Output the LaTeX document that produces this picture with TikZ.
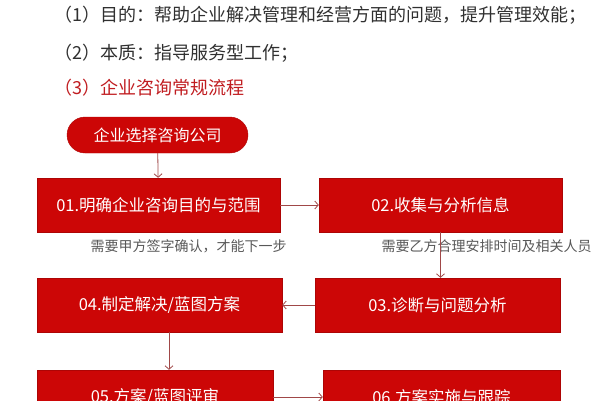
\documentclass[tikz,border=0pt]{standalone}
\usepackage{fontspec}
\usepackage{tikz}
\usetikzlibrary{positioning,arrows.meta}
\newfontfamily\cjk{Noto Sans CJK SC}
\definecolor{boxred}{RGB}{204,6,6}
\definecolor{linered}{RGB}{160,72,72}
\definecolor{titlered}{RGB}{192,28,32}
\definecolor{darktext}{RGB}{48,48,48}
\definecolor{graytext}{RGB}{88,88,88}

\begin{document}
\begin{tikzpicture}[x=1pt,y=-1pt,
		every node/.style={font=\cjk},
		stepbox/.style={draw=boxred!85!black, fill=boxred, text=white, minimum height=54pt, inner sep=0pt, font=\cjk\fontsize{16.5}{18}\selectfont},
		startbox/.style={stepbox, rounded corners=18pt, minimum height=36pt, minimum width=181pt, font=\cjk\fontsize{16}{18}\selectfont},
		note/.style={text=graytext, inner sep=0pt, font=\cjk\fontsize{14}{16}\selectfont},
		heading/.style={anchor=west, inner sep=0pt, text=darktext, font=\cjk\fontsize{18}{20}\selectfont},
		line/.style={draw=linered, line width=0.8pt, ->, >={Straight Barb[length=3.5pt,width=8pt]}}]
			\useasboundingbox (0,0) rectangle (600,400);

			\node[heading] (goal) at (54,15) {（1）目的：帮助企业解决管理和经营方面的问题，提升管理效能；};
			\node[heading] (nature) at (54,53) {（2）本质：指导服务型工作；};
			\node[heading, text=titlered] (flow) at (54,88) {（3）企业咨询常规流程};

			\node[startbox] (start) at (157.5,135) {企业选择咨询公司};
			\node[stepbox, minimum width=243pt] (s1) at (158.5,205) {01.明确企业咨询目的与范围};
			\node[stepbox, minimum width=243pt] (s2) at (440.5,205) {02.收集与分析信息};
			\node[stepbox, minimum width=245pt] (s3) at (437.5,305) {03.诊断与问题分析};
			\node[stepbox, minimum width=245pt] (s4) at (159.5,305) {04.制定解决/蓝图方案};
			\node[stepbox, minimum width=236pt] (s5) at (155,397) {05.方案/蓝图评审};
			\node[stepbox, minimum width=237pt] (s6) at (441.5,397) {06.方案实施与跟踪};

			\node[note, below=7pt of s1, xshift=30pt] (sign) {需要甲方签字确认，才能下一步};
			\node[note, below=7pt of s2, xshift=46pt] (staff) {需要乙方合理安排时间及相关人员};

			\draw[line] (start) -- (s1);
			\draw[line] (s1) -- (s2);
			\draw[line] (s2.south) -- (s2.south |- s3.north);
			\draw[line] (s3) -- (s4);
			\draw[line] ([xshift=9.5pt]s4.south) -- ([xshift=9.5pt]s4.south |- s5.north);
			\draw[line] (s5) -- (s6);
		\end{tikzpicture}
\end{document}
